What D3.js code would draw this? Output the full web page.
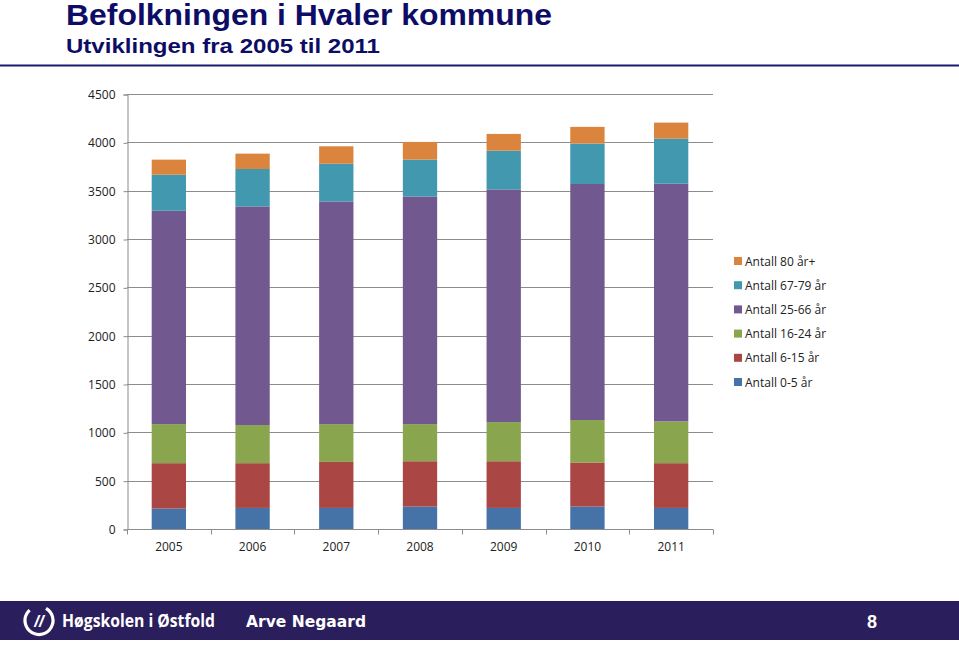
<!DOCTYPE html>
<html><head><meta charset="utf-8">
<script src="https://cdn.jsdelivr.net/npm/d3@7"></script>
<style>body{margin:0;background:#fff;}svg{display:block;}</style>
</head><body>
<svg id="c" width="959" height="645"></svg>
<script>
const years = ["2005","2006","2007","2008","2009","2010","2011"];
const seriesNames = ["Antall 0-5 år","Antall 6-15 år","Antall 16-24 år","Antall 25-66 år","Antall 67-79 år","Antall 80 år+"];
const age0_5   = [211, 218, 218, 232, 218, 232, 218];
const age6_15  = [470, 463, 476, 469, 483, 456, 463];
const age16_24 = [404, 394, 391, 384, 405, 439, 432];
const age25_66 = [2207, 2262, 2304, 2355, 2407, 2442, 2459];
const age67_79 = [373, 387, 390, 381, 401, 418, 466];
const age80    = [156, 159, 180, 183, 173, 173, 166];
const yTicks = [0, 500, 1000, 1500, 2000, 2500, 3000, 3500, 4000, 4500];
const colors = ["#4572A7","#AA4643","#89A54E","#71588F","#4198AF","#DB843D"];

const seriesValues = [age0_5, age6_15, age16_24, age25_66, age67_79, age80];
const keys = seriesNames;
const table = years.map((y,i)=>{const o={year:y}; keys.forEach((k,j)=>o[k]=seriesValues[j][i]); return o;});

const svg = d3.select("#c");
const navy = "#0d0d66";

// header
svg.append("text").attr("x",66).attr("y",25).attr("font-family","Liberation Sans, Arial, sans-serif")
  .attr("font-weight","bold").attr("font-size",29).attr("fill",navy)
  .attr("textLength",486).attr("lengthAdjust","spacingAndGlyphs").text("Befolkningen i Hvaler kommune");
svg.append("text").attr("x",66).attr("y",53).attr("font-family","Liberation Sans, Arial, sans-serif")
  .attr("font-weight","bold").attr("font-size",20).attr("fill",navy)
  .attr("textLength",314).attr("lengthAdjust","spacingAndGlyphs").text("Utviklingen fra 2005 til 2011");
svg.append("rect").attr("x",0).attr("y",64.5).attr("width",959).attr("height",2).attr("fill","#1a1a6e");

// chart
const x = d3.scaleBand().domain(years).range([127,713]).paddingInner(0.59).paddingOuter(0.295);
const y = d3.scaleLinear().domain([0,4500]).range([529,94]);
const stack = d3.stack().keys(keys)(table);

const g = svg.append("g");
g.selectAll("line.grid").data(yTicks).join("line").attr("class","grid")
  .attr("x1",127).attr("x2",713).attr("y1",d=>Math.round(y(d))+0.5).attr("y2",d=>Math.round(y(d))+0.5)
  .attr("stroke","#8c8c8c").attr("stroke-width",1);

g.selectAll("g.s").data(stack).join("g").attr("class","s").attr("fill",(d,i)=>colors[i])
  .selectAll("rect").data(d=>d).join("rect")
  .attr("x",d=>x(d.data.year)).attr("width",x.bandwidth())
  .attr("y",d=>y(d[1])).attr("height",d=>y(d[0])-y(d[1]));

// y axis
const yAxis = d3.axisLeft(y).tickValues(yTicks).tickFormat(d3.format("d")).tickSize(4).tickPadding(8);
const ya = svg.append("g").attr("transform","translate(127.5,0.5)").call(yAxis);
ya.select(".domain").attr("stroke","#8c8c8c");
ya.selectAll(".tick line").attr("stroke","#8c8c8c");
ya.selectAll(".tick text").attr("font-family","Open Sans, Liberation Sans, sans-serif").attr("font-size",12).attr("fill","#222");

// x axis
const xa = svg.append("g").attr("transform","translate(0,529.5)");
xa.append("line").attr("x1",127).attr("x2",713).attr("stroke","#8c8c8c");
const step = x.step();
xa.selectAll("line.t").data(d3.range(years.length+1)).join("line").attr("class","t")
  .attr("x1",i=>Math.round(127+i*step)+0.5).attr("x2",i=>Math.round(127+i*step)+0.5)
  .attr("y1",0).attr("y2",5).attr("stroke","#8c8c8c");
xa.selectAll("text").data(years).join("text")
  .attr("x",d=>x(d)+x.bandwidth()/2).attr("y",21).attr("text-anchor","middle")
  .attr("font-family","Open Sans, Liberation Sans, sans-serif").attr("font-size",12).attr("fill","#222").text(d=>d);

// legend
const legendOrder = keys.map((k,i)=>({k,c:colors[i]})).reverse();
const lg = svg.append("g").selectAll("g").data(legendOrder).join("g")
  .attr("transform",(d,i)=>`translate(734,${261+i*24.2})`);
lg.append("rect").attr("x",0).attr("y",-4).attr("width",8).attr("height",8).attr("fill",d=>d.c);
lg.append("text").attr("x",11).attr("y",4.5).attr("font-family","Open Sans, Liberation Sans, sans-serif")
  .attr("font-size",12).attr("fill","#222").text(d=>d.k);

// footer
svg.append("rect").attr("x",0).attr("y",601).attr("width",959).attr("height",39).attr("fill","#2a1e5c");
const lf = svg.append("g").attr("transform","translate(39,620.5)");
lf.append("circle").attr("r",14).attr("fill","none").attr("stroke","#fff").attr("stroke-width",3.2)
  .attr("stroke-dasharray","70 18").attr("transform","rotate(-60)");
lf.append("text").attr("x",0).attr("y",6).attr("text-anchor","middle").attr("fill","#fff")
  .attr("font-family","Liberation Sans, Arial, sans-serif").attr("font-weight","bold").attr("font-style","italic")
  .attr("font-size",17).text("//");
svg.append("text").attr("x",62).attr("y",627).attr("fill","#fff").attr("font-family","Open Sans, Liberation Sans, sans-serif")
  .attr("font-weight","bold").attr("font-size",17).attr("textLength",153).attr("lengthAdjust","spacingAndGlyphs").text("Høgskolen i Østfold");
svg.append("text").attr("x",246).attr("y",627).attr("fill","#fff").attr("font-family","Verdana, DejaVu Sans, sans-serif")
  .attr("font-weight","bold").attr("font-size",15).attr("textLength",120).attr("lengthAdjust","spacingAndGlyphs").text("Arve Negaard");
svg.append("text").attr("x",872).attr("y",628).attr("text-anchor","middle").attr("fill","#fff").attr("font-family","Liberation Sans, Arial, sans-serif")
  .attr("font-weight","bold").attr("font-size",18).text("8");
</script>
</body></html>
